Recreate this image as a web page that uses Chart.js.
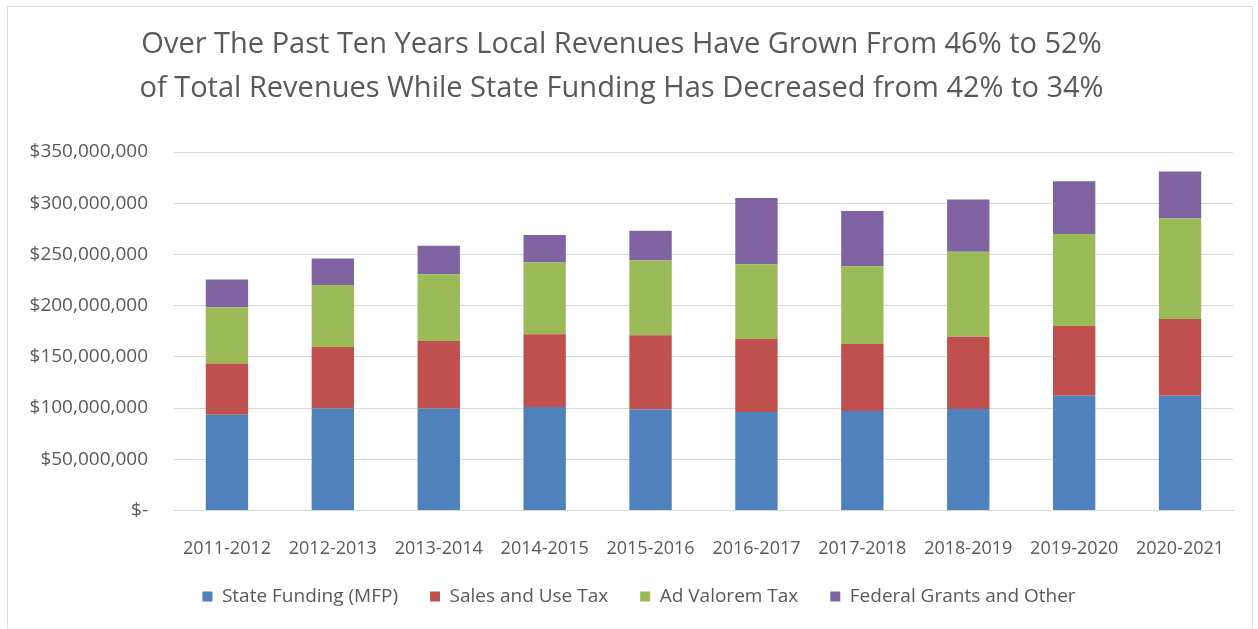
<!DOCTYPE html>
<html>
<head>
<meta charset="utf-8">
<script src="https://cdn.jsdelivr.net/npm/chart.js@4"></script>
<style>
  html, body { margin: 0; padding: 0; background: #ffffff; }
  #wrap { position: relative; width: 1258px; height: 629px; }
  #frame { position: absolute; left: 7px; top: 6px; width: 1246px; height: 623px; border: 1px solid #dcdcdc; border-bottom-color: #f0f0f0; box-sizing: border-box; }
  canvas { position: absolute; left: 0; top: 0; }
</style>
</head>
<body>
<div id="wrap">
  <div id="frame"></div>
  <canvas id="revChart" width="1258" height="629"></canvas>
</div>
<script>
// school years
const years = ['2011-2012', '2012-2013', '2013-2014', '2014-2015', '2015-2016',
               '2016-2017', '2017-2018', '2018-2019', '2019-2020', '2020-2021'];

// revenue by source, in millions of dollars
const stateFunding = [93.5, 99.5, 99.5, 101, 98.5, 96, 97, 99, 112, 112];
const salesTax     = [50, 60, 66, 71, 72.5, 71.5, 65.5, 70.5, 68, 75];
const adValorem    = [55, 60.5, 65, 70, 73, 73, 76, 83, 90, 98];
const federalOther = [27, 26, 28, 27, 29, 64.5, 54, 51, 51.5, 46];

const seriesNames = ['State Funding (MFP)', 'Sales and Use Tax', 'Ad Valorem Tax', 'Federal Grants and Other'];
const seriesColors = ['#4f81bd', '#c0504d', '#9bbb59', '#8064a2'];

const titleLines = [
    'Over The Past Ten Years Local Revenues Have Grown From 46% to 52%',
    'of Total Revenues While State Funding Has Decreased from 42% to 34%'
];

const toDollars = arr => arr.map(v => v * 1000000);
const allSeries = [stateFunding, salesTax, adValorem, federalOther];

const textGray = '#595959';
const fontFamily = "'Open Sans', 'Noto Sans', sans-serif";

// x labels hang below the (shortened) axis box, so widen its clip area,
// and nudge the legend a bit to the right
const layoutTweaks = {
    id: 'layoutTweaks',
    afterLayout(chart) {
        chart.scales.x.bottom = chart.height;
        chart.legend.left += 35;
    }
};

const ctx = document.getElementById('revChart').getContext('2d');
const revChart = new Chart(ctx, {
    type: 'bar',
    data: {
        labels: years,
        datasets: allSeries.map((s, i) => ({
            label: seriesNames[i],
            data: toDollars(s),
            backgroundColor: seriesColors[i],
            borderWidth: 0,
            barPercentage: 0.4,
            categoryPercentage: 1.0
        }))
    },
    options: {
        responsive: false,
        animation: false,
        layout: { padding: { left: 10, right: 25, top: 8, bottom: 13 } },
        plugins: {
            title: {
                display: true,
                text: titleLines,
                color: textGray,
                font: { family: fontFamily, size: 29, weight: 'normal', lineHeight: 1.5 },
                padding: { top: 15.25, bottom: 41.75 }
            },
            legend: {
                position: 'bottom',
                labels: {
                    color: textGray,
                    font: { family: fontFamily, size: 19 },
                    boxWidth: 10,
                    boxHeight: 10,
                    padding: 32
                }
            },
            tooltip: { enabled: false }
        },
        scales: {
            x: {
                stacked: true,
                grid: { display: false },
                border: { display: true, color: '#d9d9d9' },
                afterFit: scale => { scale.height = 44.6; },
                ticks: {
                    color: textGray,
                    font: { family: fontFamily, size: 18 },
                    maxRotation: 0,
                    padding: 20
                }
            },
            y: {
                stacked: true,
                min: 0,
                max: 350000000,
                grid: { color: '#d9d9d9', drawTicks: false },
                border: { display: false },
                afterFit: scale => { scale.width = 164; },
                ticks: {
                    stepSize: 50000000,
                    color: textGray,
                    font: { family: fontFamily, size: 19 },
                    padding: 26,
                    callback: v => v === 0 ? '$-' : '$' + v.toLocaleString('en-US')
                }
            }
        }
    },
    plugins: [layoutTweaks]
});
</script>
</body>
</html>
